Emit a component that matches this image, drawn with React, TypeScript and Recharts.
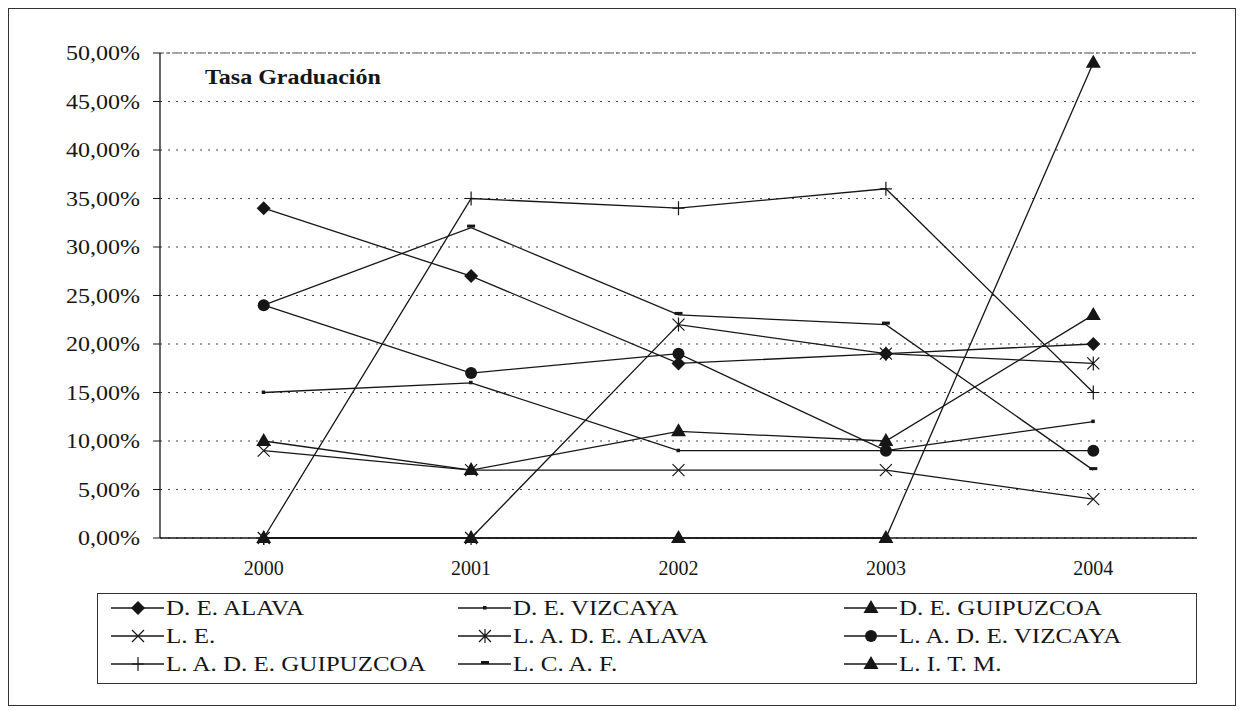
import React from 'react';
import { LineChart, Line, XAxis, YAxis, CartesianGrid, ReferenceLine } from 'recharts';

const years = ['2000', '2001', '2002', '2003', '2004'];
const deAlava = [34, 27, 18, 19, 20];
const deVizcaya = [15, 16, 9, 9, 12];
const deGuipuzcoa = [10, 7, 11, 10, 23];
const le = [9, 7, 7, 7, 4];
const ladeAlava = [0, 0, 22, 19, 18];
const ladeVizcaya = [24, 17, 19, 9, 9];
const ladeGuipuzcoa = [0, 35, 34, 36, 15];
const lcaf = [24, 32, 23, 22, 7];
const litm = [0, 0, 0, 0, 49];
const yTicks = [0, 5, 10, 15, 20, 25, 30, 35, 40, 45, 50];
const title = 'Tasa Graduación';

const series = [
  { key: 's0', name: 'D. E. ALAVA', values: deAlava, marker: 'diamond' },
  { key: 's1', name: 'D. E. VIZCAYA', values: deVizcaya, marker: 'dot' },
  { key: 's2', name: 'D. E. GUIPUZCOA', values: deGuipuzcoa, marker: 'triangle' },
  { key: 's3', name: 'L. E.', values: le, marker: 'x' },
  { key: 's4', name: 'L. A. D. E. ALAVA', values: ladeAlava, marker: 'asterisk' },
  { key: 's5', name: 'L. A. D. E. VIZCAYA', values: ladeVizcaya, marker: 'circle' },
  { key: 's6', name: 'L. A. D. E. GUIPUZCOA', values: ladeGuipuzcoa, marker: 'plus' },
  { key: 's7', name: 'L. C. A. F.', values: lcaf, marker: 'dash' },
  { key: 's8', name: 'L. I. T. M.', values: litm, marker: 'triangle' },
];

const data = years.map((y, i) => {
  const row: any = { x: i, year: y };
  series.forEach((s) => { row[s.key] = s.values[i]; });
  return row;
});

const INK = '#161616';
const FONT = "'Liberation Serif', serif";
const STRETCH = 1.2;

function Marker({ type, cx, cy }: { type: string; cx: number; cy: number }) {
  switch (type) {
    case 'diamond':
      return <polygon points={`${cx},${cy - 7} ${cx + 7},${cy} ${cx},${cy + 7} ${cx - 7},${cy}`} fill={INK} />;
    case 'dot':
      return <rect x={cx - 2} y={cy - 2} width={3.5} height={3.5} fill={INK} />;
    case 'triangle':
      return <polygon points={`${cx},${cy - 8} ${cx + 7.5},${cy + 5} ${cx - 7.5},${cy + 5}`} fill={INK} />;
    case 'x':
      return <path d={`M${cx - 6} ${cy - 6}L${cx + 6} ${cy + 6}M${cx - 6} ${cy + 6}L${cx + 6} ${cy - 6}`} stroke={INK} strokeWidth={1.2} fill="none" />;
    case 'asterisk':
      return <path d={`M${cx - 6} ${cy - 6}L${cx + 6} ${cy + 6}M${cx - 6} ${cy + 6}L${cx + 6} ${cy - 6}M${cx} ${cy - 7}V${cy + 7}`} stroke={INK} strokeWidth={1.2} fill="none" />;
    case 'circle':
      return <circle cx={cx} cy={cy} r={6} fill={INK} />;
    case 'plus':
      return <path d={`M${cx} ${cy - 7}V${cy + 7}M${cx - 6} ${cy}H${cx + 6}`} stroke={INK} strokeWidth={1.2} fill="none" />;
    case 'dash':
      return <rect x={cx - 4} y={cy - 3} width={8} height={3} fill={INK} />;
    default:
      return null;
  }
}

const fmtPct = (v: number) => `${v.toFixed(2).replace('.', ',')}%`;

function YTick(props: any) {
  const { x, y, payload } = props;
  return (
    <text transform={`translate(${x},${y}) scale(${STRETCH},1)`} x={0} y={0} dy={7} textAnchor="end" fill={INK} style={{ fontFamily: FONT, fontSize: 20 }}>
      {fmtPct(payload.value)}
    </text>
  );
}

function XTick(props: any) {
  const { x, y, payload } = props;
  return (
    <text x={x} y={y} dy={36} textAnchor="middle" fill={INK} style={{ fontFamily: FONT, fontSize: 20 }}>
      {years[payload.value]}
    </text>
  );
}

const legendCols = [13, 360, 746];
const legendRows = [14, 42, 70];

export default function App() {
  return (
    <div style={{ position: 'relative', width: 1228, height: 698, border: '1px solid #333', boxSizing: 'border-box', fontFamily: FONT, background: '#fff' }}>
      <div style={{ position: 'absolute', left: 0, top: 0 }}>
        <LineChart width={1226} height={600} data={data} margin={{ top: 44, right: 38, bottom: 30, left: 0 }} style={{ fontFamily: FONT }}>
          <CartesianGrid xAxisId="main" yAxisId="y" vertical={false} stroke="#444" strokeDasharray="2 6" strokeWidth={1.2} />
          <XAxis xAxisId="b" type="number" dataKey="x" domain={[-0.5, 4.5]} ticks={[0.5, 1.5, 2.5, 3.5]} tick={false} axisLine={{ stroke: INK, strokeWidth: 1.6 }} tickLine={{ stroke: INK }} tickSize={5} height={1} />
          <XAxis xAxisId="main" type="number" dataKey="x" domain={[-0.5, 4.5]} ticks={[0, 1, 2, 3, 4]} axisLine={false} tickLine={false} tickSize={0} tickMargin={0} tick={<XTick />} height={40} interval={0} />
          <YAxis yAxisId="y" type="number" domain={[0, 50]} ticks={yTicks} width={151} axisLine={{ stroke: INK, strokeWidth: 1.3 }} tickLine={{ stroke: INK }} tickSize={7} tickMargin={13} tick={<YTick />} interval={0} />
          <ReferenceLine xAxisId="main" yAxisId="y" y={50} stroke="#8a8a8a" strokeWidth={1.3} strokeDasharray="4 2" />
          {series.map((s) => (
            <Line
              key={s.key}
              xAxisId="main"
              yAxisId="y"
              type="linear"
              dataKey={s.key}
              name={s.name}
              stroke={INK}
              strokeWidth={1.3}
              isAnimationActive={false}
              activeDot={false}
              dot={(p: any) => (
                <g key={`${s.key}-${p.index}`}>
                  <Marker type={s.marker} cx={p.cx} cy={p.cy} />
                </g>
              )}
            />
          ))}
        </LineChart>
      </div>
      <div style={{ position: 'absolute', left: 196, top: 55, fontSize: 20, fontWeight: 'bold', color: INK, transform: `scale(${STRETCH},1)`, transformOrigin: 'left center', whiteSpace: 'nowrap', lineHeight: '26px', fontFamily: FONT }}>
        {title}
      </div>
      <div style={{ position: 'absolute', left: 88, top: 584, width: 1100, height: 91, border: '1px solid #333', boxSizing: 'border-box' }}>
        {series.map((s, i) => {
          const col = i % 3;
          const row = Math.floor(i / 3);
          return (
            <div key={s.key} style={{ position: 'absolute', left: legendCols[col], top: legendRows[row] - 13, height: 26, display: 'flex', alignItems: 'center', whiteSpace: 'nowrap' }}>
              <svg width={53} height={20} style={{ display: 'block' }}>
                <line x1={0} y1={10} x2={53} y2={10} stroke={INK} strokeWidth={1.3} />
                <Marker type={s.marker} cx={27} cy={10} />
              </svg>
              <span style={{ fontSize: 20, color: INK, marginLeft: 2, display: 'inline-block', transform: 'scale(1.25,1)', transformOrigin: 'left center', fontFamily: FONT }}>{s.name}</span>
            </div>
          );
        })}
      </div>
    </div>
  );
}
